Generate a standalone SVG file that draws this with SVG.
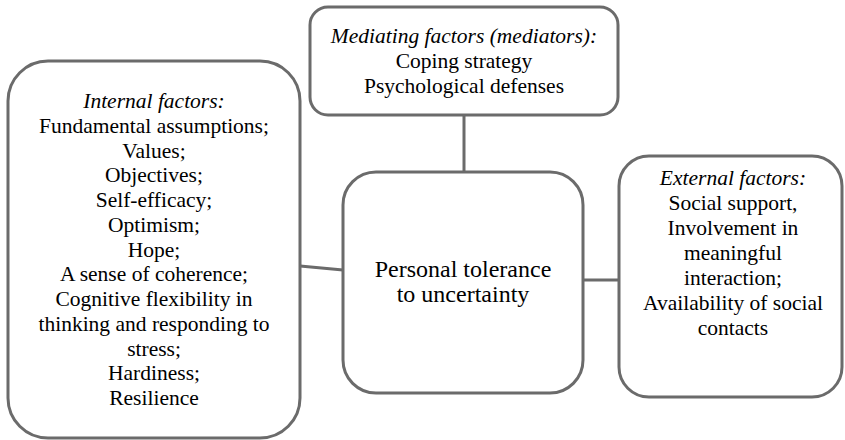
<svg xmlns="http://www.w3.org/2000/svg" width="845" height="440" viewBox="0 0 845 440">
<style>
.box{fill:#fff;stroke:#6b6b6b;stroke-width:3}
.con{stroke:#6b6b6b;stroke-width:3;fill:none}
text{font-family:'Liberation Serif','Times New Roman',serif;font-size:21.5px;fill:#000;text-anchor:middle}
.it{font-style:italic}
.big{font-size:24px}
</style>
<rect width="845" height="440" fill="#fff"/>
<g id="connectors">
<line class="con" x1="464" y1="115" x2="464" y2="172"/>
<line class="con" x1="300" y1="266" x2="343" y2="270"/>
<line class="con" x1="583" y1="280" x2="619" y2="280"/>
</g>
<g id="internal">
<rect class="box" x="8" y="61" width="292" height="377" rx="40" ry="40"/>
<text x="154" y="108"><tspan class="it" x="154">Internal factors:</tspan><tspan x="154" dy="24.75">Fundamental assumptions;</tspan><tspan x="154" dy="24.75">Values;</tspan><tspan x="154" dy="24.75">Objectives;</tspan><tspan x="154" dy="24.75">Self-efficacy;</tspan><tspan x="154" dy="24.75">Optimism;</tspan><tspan x="154" dy="24.75">Hope;</tspan><tspan x="154" dy="24.75">A sense of coherence;</tspan><tspan x="154" dy="24.75">Cognitive flexibility  in</tspan><tspan x="154" dy="24.75">thinking and responding to</tspan><tspan x="154" dy="24.75">stress;</tspan><tspan x="154" dy="24.75">Hardiness;</tspan><tspan x="154" dy="24.75">Resilience</tspan></text>
</g>
<g id="mediating">
<rect class="box" x="310" y="7" width="308" height="108" rx="18" ry="18"/>
<text x="464" y="43"><tspan class="it" x="464">Mediating factors (mediators):</tspan><tspan x="464" dy="25">Coping strategy</tspan><tspan x="464" dy="25">Psychological  defenses</tspan></text>
</g>
<g id="center">
<rect class="box" x="343" y="172" width="240" height="221" rx="33" ry="33"/>
<text class="big" x="463" y="277"><tspan x="463">Personal  tolerance</tspan><tspan x="463" dy="25">to uncertainty</tspan></text>
</g>
<g id="external">
<rect class="box" x="619" y="156" width="223" height="241" rx="30" ry="30"/>
<text x="733" y="185"><tspan class="it" x="733">External factors:</tspan><tspan x="733" dy="25">Social support,</tspan><tspan x="733" dy="25">Involvement in</tspan><tspan x="733" dy="25">meaningful</tspan><tspan x="733" dy="25">interaction;</tspan><tspan x="733" dy="25">Availability  of social</tspan><tspan x="733" dy="25">contacts</tspan></text>
</g>
</svg>
